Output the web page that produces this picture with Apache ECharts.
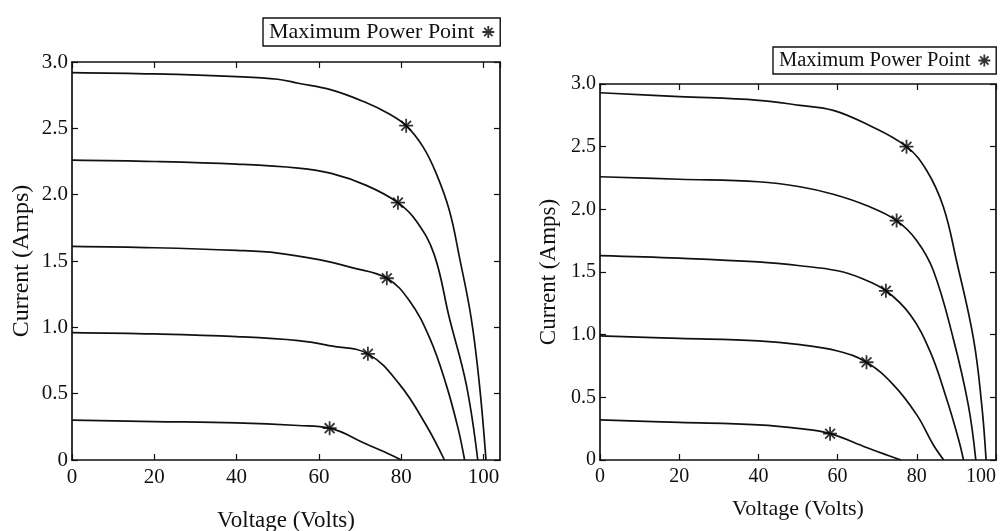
<!DOCTYPE html>
<html><head><meta charset="utf-8">
<script src="https://cdn.jsdelivr.net/npm/echarts@6/dist/echarts.min.js"></script>
<style>html,body{margin:0;padding:0;background:#fff}#c{width:1006px;height:531px}</style>
</head><body><div id="c"></div>
<script>
// ---------- DATA ----------
const yTickLabels = ['0', '0.5', '1.0', '1.5', '2.0', '2.5', '3.0'];
const xTickLabels = ['0', '20', '40', '60', '80', '100'];
const legendLabel = 'Maximum Power Point';
const xName = 'Voltage (Volts)';
const yName = 'Current (Amps)';

// Left panel: I-V curves (voltage, current)
const L1V = [0, 20, 40, 50, 55, 63, 71, 77, 81.2, 85.3, 88.5, 91.7, 94.2, 97, 99, 100.6];
const L1I = [2.92, 2.91, 2.89, 2.87, 2.84, 2.79, 2.70, 2.61, 2.52, 2.36, 2.16, 1.88, 1.52, 1.07, 0.57, 0];
const L2V = [0, 20, 40, 55, 63, 71.5, 79.2, 83.7, 88, 91.7, 95.8, 98.6];
const L2I = [2.26, 2.25, 2.23, 2.20, 2.16, 2.07, 1.94, 1.80, 1.55, 1.07, 0.57, 0];
const L3V = [0, 20, 40, 50, 60, 68, 76.5, 82, 86.9, 90.9, 93.8, 95.4];
const L3I = [1.61, 1.60, 1.58, 1.56, 1.51, 1.45, 1.37, 1.20, 0.92, 0.57, 0.24, 0];
const L4V = [0, 20, 40, 55, 63, 71.9, 79.6, 86.1, 90.5];
const L4I = [0.96, 0.95, 0.93, 0.90, 0.86, 0.80, 0.57, 0.26, 0];
const L5V = [0, 20, 40, 55, 62.6, 71.5, 76, 80];
const L5I = [0.30, 0.29, 0.28, 0.26, 0.24, 0.12, 0.06, 0];
const LmppV = [81.2, 79.2, 76.5, 71.9, 62.6];
const LmppI = [2.52, 1.94, 1.37, 0.80, 0.24];

// Right panel
const R1V = [0, 20, 40, 50.5, 58.9, 67.3, 77.4, 82.5, 86.7, 90.1, 94.3, 96.4, 97.5];
const R1I = [2.93, 2.90, 2.87, 2.83, 2.79, 2.68, 2.50, 2.31, 2.02, 1.58, 0.97, 0.44, 0];
const R2V = [0, 20, 40, 50.5, 58.9, 67.3, 74.9, 80, 84.2, 89.2, 93, 94.9];
const R2I = [2.26, 2.24, 2.22, 2.18, 2.12, 2.03, 1.91, 1.75, 1.51, 0.97, 0.44, 0];
const R3V = [0, 20, 40, 50.5, 60, 66, 72.2, 78.3, 83.3, 87.5, 90.5, 91.8];
const R3I = [1.63, 1.61, 1.58, 1.55, 1.51, 1.45, 1.35, 1.16, 0.87, 0.49, 0.17, 0];
const R4V = [0, 20, 40, 50.5, 60, 67.3, 74.1, 80, 84.2, 86.8];
const R4I = [0.99, 0.97, 0.95, 0.92, 0.87, 0.78, 0.60, 0.36, 0.12, 0];
const R5V = [0, 20, 40, 50.5, 58.1, 67.3, 72, 76];
const R5I = [0.32, 0.30, 0.28, 0.25, 0.21, 0.10, 0.045, 0];
const RmppV = [77.4, 74.9, 72.2, 67.3, 58.1];
const RmppI = [2.50, 1.91, 1.35, 0.78, 0.21];

// ---------- CHART ----------
const FONT = 'Liberation Serif, Times New Roman, serif';
const STAR = 'path://M10 0L10 20M0 10L20 10M3 3L17 17M3 17L17 3';
const zip = (a, b) => a.map((v, i) => [v, b[i]]);

const chart = echarts.init(document.getElementById('c'), null, {renderer: 'canvas'});

function xAx(grid, max, pos, main, nameGap, fs, nfs, showMax) {
  return {
    type: 'value', gridIndex: grid, min: 0, max: max, interval: 20, position: pos,
    name: main ? xName : '', nameLocation: 'middle', nameGap: nameGap,
    nameTextStyle: {fontFamily: FONT, fontSize: nfs, color: '#111'},
    axisLine: {show: true, onZero: false, lineStyle: {color: '#111', width: 1.7}},
    axisTick: {show: true, inside: true, length: 6, lineStyle: {color: '#111', width: 1.2}},
    axisLabel: {show: main, showMaxLabel: showMax, alignMaxLabel: showMax ? 'right' : null,
      margin: 7, fontFamily: FONT, fontSize: fs, color: '#111',
      formatter: v => { const i = Math.round(v / 20); return (Math.abs(v - i * 20) < 1e-6 && xTickLabels[i] !== undefined) ? xTickLabels[i] : ''; }},
    splitLine: {show: false}
  };
}
function yAx(grid, pos, main, nameGap, fs, nfs) {
  return {
    type: 'value', gridIndex: grid, min: 0, max: 3, interval: 0.5, position: pos,
    name: main ? yName : '', nameLocation: 'middle', nameGap: nameGap, nameRotate: 90,
    nameTextStyle: {fontFamily: FONT, fontSize: nfs, color: '#111'},
    axisLine: {show: true, onZero: false, lineStyle: {color: '#111', width: 1.7}},
    axisTick: {show: true, inside: true, length: 6, lineStyle: {color: '#111', width: 1.2}},
    axisLabel: {show: main, margin: 4, fontFamily: FONT, fontSize: fs, color: '#111',
      formatter: v => yTickLabels[Math.round(v / 0.5)]},
    splitLine: {show: false}
  };
}
function lineS(xi, yi, V, I) {
  return {type: 'line', xAxisIndex: xi, yAxisIndex: yi, data: zip(V, I), smooth: 0.4,
    symbol: 'none', silent: true,
    lineStyle: {color: '#111', width: 1.7}};
}
function mppS(xi, yi, V, I) {
  return {type: 'scatter', name: legendLabel, xAxisIndex: xi, yAxisIndex: yi, data: zip(V, I),
    symbol: STAR, symbolSize: 14, z: 5,
    itemStyle: {color: '#000', borderColor: '#000', borderWidth: 1.8}};
}
function leg(left, top, fs) {
  return {data: [legendLabel], left: left, top: top, align: 'right', icon: STAR,
    itemWidth: 12, itemHeight: 12, itemGap: 0, borderColor: '#111', borderWidth: 1.4, borderRadius: 0,
    padding: [3, 5, 3, 6], selectedMode: false,
    textStyle: {fontFamily: FONT, fontSize: fs, color: '#111', padding: [0, 3, 0, 0]},
    itemStyle: {color: '#000', borderColor: '#000', borderWidth: 1.8}};
}

chart.setOption({
  backgroundColor: '#fff',
  animation: false,
  legend: [leg(263, 18, 22), leg(773, 47, 20.5)],
  grid: [
    {left: 72, top: 62, width: 428, height: 398, outerBoundsMode: 'none', containLabel: false},
    {left: 600, top: 84, width: 396, height: 376, outerBoundsMode: 'none', containLabel: false}
  ],
  xAxis: [xAx(0, 104, 'bottom', true, 49, 21, 23, false), xAx(0, 104, 'top', false, 0, 21, 23, false),
          xAx(1, 100, 'bottom', true, 38, 20, 22, true), xAx(1, 100, 'top', false, 0, 20, 22, false)],
  yAxis: [yAx(0, 'left', true, 38, 21, 24), yAx(0, 'right', false, 0, 21, 24),
          yAx(1, 'left', true, 40, 20, 23), yAx(1, 'right', false, 0, 20, 23)],
  series: [
    lineS(0, 0, L1V, L1I), lineS(0, 0, L2V, L2I), lineS(0, 0, L3V, L3I), lineS(0, 0, L4V, L4I), lineS(0, 0, L5V, L5I),
    mppS(0, 0, LmppV, LmppI),
    lineS(2, 2, R1V, R1I), lineS(2, 2, R2V, R2I), lineS(2, 2, R3V, R3I), lineS(2, 2, R4V, R4I), lineS(2, 2, R5V, R5I),
    mppS(2, 2, RmppV, RmppI)
  ]
});
</script></body></html>
